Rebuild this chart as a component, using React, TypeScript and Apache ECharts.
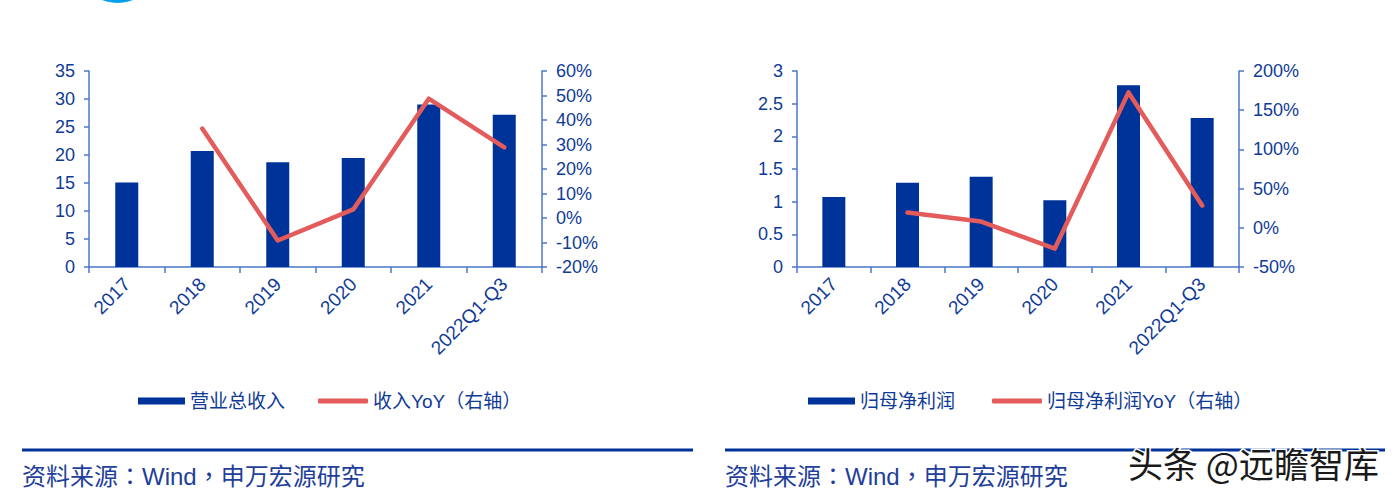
import React, { useEffect, useRef } from "react";
import * as echarts from "echarts";

const categories = ["2017", "2018", "2019", "2020", "2021", "2022Q1-Q3"];
const revenue = [15.1, 20.7, 18.7, 19.45, 29.0, 27.2];
const revenueYoY = [null, 36.5, -9.2, 3.5, 48.7, 28.8];
const profit = [1.07, 1.29, 1.38, 1.02, 2.78, 2.28];
const profitYoY = [null, 19.4, 8.0, -26.5, 172.7, 28.4];

const leftNames = ["营业总收入", "收入YoY（右轴）"];
const rightNames = ["归母净利润", "归母净利润YoY（右轴）"];
const sourceText = "资料来源：Wind，申万宏源研究";
const watermark = "头条 @远瞻智库";

const BAR = "#003399";
const LINE = "#E45B5B";
const AXIS = "#4A78C8";
const TEXT = "#0F3B96";
const FONT = "Arial, 'Liberation Sans', 'Noto Sans CJK SC', sans-serif";
const SRC_FONT = "Arial, 'Liberation Sans', 'Noto Sans CJK TC', sans-serif";

function yAxis(gridIdx: number, min: number, max: number, interval: number, pct: boolean, pos: "left" | "right") {
  return {
    type: "value",
    gridIndex: gridIdx,
    position: pos,
    min,
    max,
    interval,
    splitLine: { show: false },
    axisLine: { show: true, lineStyle: { color: AXIS, width: 1.5 } },
    axisTick: { show: true, length: 5, lineStyle: { color: AXIS, width: 1.5 } },
    axisLabel: {
      color: TEXT,
      fontSize: 18,
      fontFamily: FONT,
      margin: 14,
      formatter: pct ? "{value}%" : undefined,
    },
  };
}

function xAxis(gridIdx: number) {
  return {
    type: "category",
    gridIndex: gridIdx,
    data: categories,
    axisLine: { show: true, lineStyle: { color: AXIS, width: 1.5 } },
    axisTick: { show: true, length: 6, lineStyle: { color: AXIS, width: 1.5 } },
    axisLabel: {
      color: TEXT,
      fontSize: 19,
      fontFamily: FONT,
      rotate: 45,
      margin: 14,
      interval: 0,
    },
  };
}

function legend(name: string, left: number, isLine: boolean) {
  return {
    data: [name],
    left,
    top: 391,
    padding: 0,
    itemWidth: isLine ? 50 : 47,
    itemHeight: isLine ? 5 : 7,
    icon: isLine ? "roundRect" : "rect",
    textStyle: { color: TEXT, fontSize: 19, fontFamily: FONT, lineHeight: 20 },
  };
}

export default function App() {
  const ref = useRef<HTMLDivElement>(null);
  useEffect(() => {
    if (!ref.current) return;
    const chart = echarts.init(ref.current, undefined, { renderer: "svg" });
    const lineSeries = (name: string, data: (number | null)[], xi: number, yi: number) => ({
      type: "line",
      name,
      data,
      xAxisIndex: xi,
      yAxisIndex: yi,
      symbol: "none",
      showSymbol: false,
      connectNulls: false,
      itemStyle: { color: LINE },
      lineStyle: { color: LINE, width: 4.5, cap: "round", join: "round" },
      z: 3,
    });
    const barSeries = (name: string, data: number[], xi: number, yi: number) => ({
      type: "bar",
      name,
      data,
      xAxisIndex: xi,
      yAxisIndex: yi,
      barWidth: 23,
      itemStyle: { color: BAR },
      z: 2,
    });
    chart.setOption({
      animation: false,
      backgroundColor: "#ffffff",
      grid: [
        { left: 89, top: 71, width: 453, height: 196 },
        { left: 797, top: 71, width: 442, height: 196 },
      ],
      xAxis: [xAxis(0), xAxis(1)],
      yAxis: [
        yAxis(0, 0, 35, 5, false, "left"),
        yAxis(0, -20, 60, 10, true, "right"),
        yAxis(1, 0, 3, 0.5, false, "left"),
        yAxis(1, -50, 200, 50, true, "right"),
      ],
      legend: [
        legend(leftNames[0], 138, false),
        legend(leftNames[1], 318, true),
        legend(rightNames[0], 808, false),
        legend(rightNames[1], 992, true),
      ],
      series: [
        barSeries(leftNames[0], revenue, 0, 0),
        lineSeries(leftNames[1], revenueYoY, 0, 1),
        barSeries(rightNames[0], profit, 1, 2),
        lineSeries(rightNames[1], profitYoY, 1, 3),
      ],
      graphic: [
        { type: "circle", shape: { cx: 117.5, cy: -38.5, r: 41.5 }, style: { fill: "#00A0E9" } },
        { type: "line", shape: { x1: 22, y1: 450, x2: 693, y2: 450 }, style: { stroke: BAR, lineWidth: 3 } },
        { type: "line", shape: { x1: 725, y1: 450, x2: 1385, y2: 450 }, style: { stroke: BAR, lineWidth: 3 } },
        {
          type: "text",
          x: 22,
          y: 476,
          style: { text: sourceText, fill: "#1F3F9A", fontSize: 24, fontFamily: SRC_FONT, verticalAlign: "middle" },
        },
        {
          type: "text",
          x: 725,
          y: 476,
          style: { text: sourceText, fill: "#1F3F9A", fontSize: 24, fontFamily: SRC_FONT, verticalAlign: "middle" },
        },
        {
          type: "text",
          x: 1128,
          y: 462,
          z: 100,
          style: {
            text: watermark,
            fill: "#1a1a1a",
            fontSize: 35,
            fontFamily: "'Noto Sans CJK SC', sans-serif",
            verticalAlign: "middle",
            stroke: "#ffffff",
            lineWidth: 3,
          },
        },
      ],
    });
    return () => chart.dispose();
  }, []);
  return (
    <div
      ref={ref}
      style={{ position: "fixed", left: 0, top: 0, width: 1400, height: 497 }}
    />
  );
}
